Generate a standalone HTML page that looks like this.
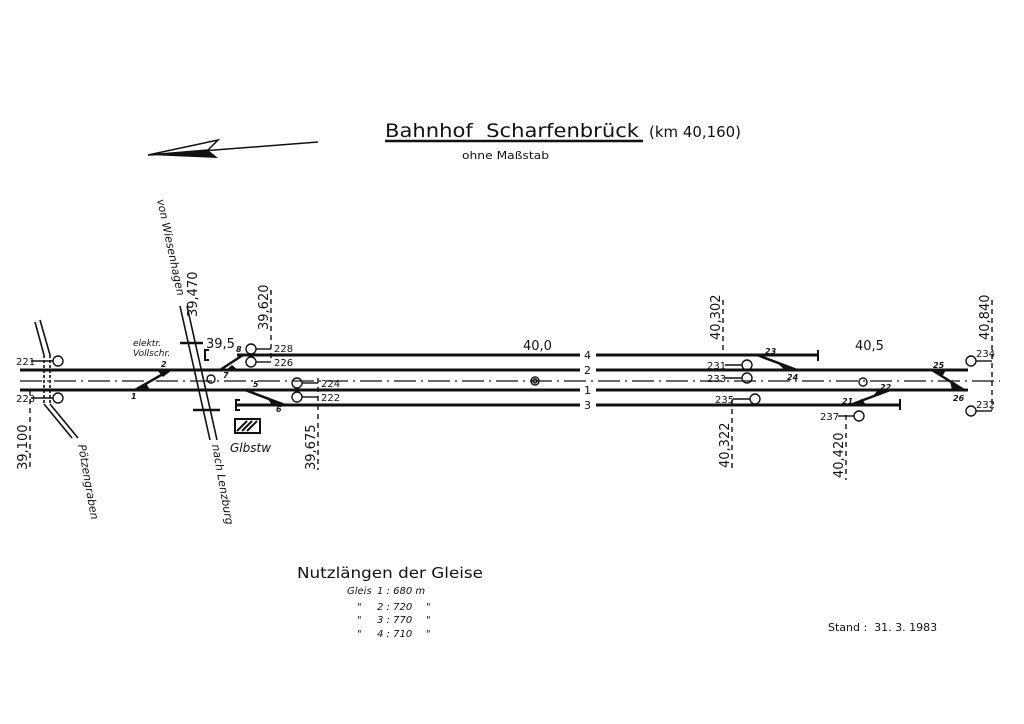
<!DOCTYPE html>
<html><head><meta charset="utf-8"><style>
html,body{margin:0;padding:0;background:#fff}
svg{display:block}
text{font-family:"DejaVu Sans","Liberation Sans",sans-serif;fill:#111}
.i{font-style:italic}
</style></head><body>
<svg width="1024" height="724" viewBox="0 0 1024 724" xmlns="http://www.w3.org/2000/svg">
<line x1="150" y1="155" x2="318" y2="142" stroke="#111" stroke-width="1.5"/>
<polygon points="148,155 218,140 208,150" fill="none" stroke="#111" stroke-width="1.5"/>
<polygon points="148,155 208,150 218,158" fill="#111"/>

<text x="385" y="137" font-size="19" textLength="254" lengthAdjust="spacingAndGlyphs" xml:space="preserve">Bahnhof  Scharfenbrück</text>
<line x1="385" y1="141" x2="643" y2="141" stroke="#111" stroke-width="2.5"/>
<text x="649" y="137" font-size="15" textLength="92" lengthAdjust="spacingAndGlyphs">(km 40,160)</text>
<text x="462" y="159" font-size="11" textLength="87" lengthAdjust="spacingAndGlyphs">ohne Maßstab</text>

<g stroke="#111" fill="none">
<g stroke-width="3">
<line x1="237" y1="355" x2="580" y2="355"/>
<line x1="20" y1="370" x2="580" y2="370"/>
<line x1="20" y1="390" x2="580" y2="390"/>
<line x1="236" y1="405" x2="580" y2="405"/>
<line x1="596" y1="355" x2="818" y2="355"/>
<line x1="596" y1="370" x2="968" y2="370"/>
<line x1="596" y1="390" x2="968" y2="390"/>
<line x1="596" y1="405" x2="900" y2="405"/>
</g>
<g stroke-width="2">
<polyline points="209,350 205,350 205,360 209,360"/>
<polyline points="240,400 236,400 236,410 240,410"/>
<line x1="818" y1="350" x2="818" y2="361"/>
<line x1="900" y1="399" x2="900" y2="410"/>
</g>
<line x1="20" y1="381" x2="1000" y2="381" stroke-width="1.2" stroke-dasharray="22,5,2,5"/>
<g stroke-width="2.5">
<line x1="135" y1="390" x2="170" y2="370"/>
<line x1="220" y1="370" x2="243" y2="355"/>
<line x1="245" y1="390" x2="285" y2="405"/>
<line x1="757" y1="355" x2="797" y2="370"/>
<line x1="850" y1="405" x2="890" y2="390"/>
<line x1="932" y1="370" x2="964" y2="390"/>
</g>
<g stroke-width="1.6">
<line x1="180" y1="306" x2="210" y2="440"/>
<line x1="187" y1="306" x2="217" y2="440"/>
<line x1="40" y1="320" x2="50" y2="355"/>
<line x1="35" y1="322" x2="44" y2="355"/>
<line x1="44" y1="404" x2="72" y2="438"/>
<line x1="50" y1="404" x2="78" y2="438"/>
<line x1="44" y1="355" x2="44" y2="404" stroke-dasharray="3,2"/>
<line x1="50" y1="355" x2="50" y2="404" stroke-dasharray="3,2"/>
</g>
<g stroke-width="2.5">
<line x1="180" y1="343" x2="203" y2="343"/>
<line x1="193" y1="410" x2="220" y2="410"/>
</g>
<g stroke-width="1.4" stroke-dasharray="5,4">
<line x1="271" y1="290" x2="271" y2="362"/>
<line x1="318" y1="378" x2="318" y2="470"/>
<line x1="723" y1="300" x2="723" y2="355"/>
<line x1="732" y1="400" x2="732" y2="472"/>
<line x1="846" y1="415" x2="846" y2="480"/>
<line x1="992" y1="300" x2="992" y2="410"/>
<line x1="30" y1="390" x2="30" y2="470"/>
</g>
<g stroke-width="1.4">
<circle cx="251" cy="349" r="5"/><line x1="256" y1="349" x2="271" y2="349"/>
<circle cx="251" cy="362" r="5"/><line x1="256" y1="362" x2="271" y2="362"/>
<circle cx="297" cy="383" r="5"/><line x1="302" y1="383" x2="318" y2="383"/>
<circle cx="297" cy="397" r="5"/><line x1="302" y1="397" x2="318" y2="397"/>
<circle cx="211" cy="379" r="4"/>
<circle cx="535" cy="381" r="4"/><circle cx="535" cy="381" r="2"/>
<circle cx="747" cy="365" r="5"/><line x1="725" y1="365" x2="742" y2="365"/>
<circle cx="747" cy="378" r="5"/><line x1="725" y1="378" x2="742" y2="378"/>
<circle cx="755" cy="399" r="5"/><line x1="733" y1="399" x2="750" y2="399"/>
<circle cx="859" cy="416" r="5"/><line x1="838" y1="416" x2="854" y2="416"/>
<circle cx="863" cy="382" r="4"/>
<circle cx="971" cy="361" r="5"/><line x1="976" y1="361" x2="992" y2="361"/>
<circle cx="971" cy="411" r="5"/><line x1="976" y1="411" x2="992" y2="411"/>
<circle cx="58" cy="361" r="5"/>
<circle cx="58" cy="398" r="5"/>
<line x1="31" y1="361" x2="53" y2="361"/>
<line x1="31" y1="398" x2="53" y2="398"/>
</g>
<rect x="235" y="419" width="25" height="14" stroke-width="2"/>
</g>
<path d="M237 431 L247 421 M242 431 L252 421 M247 431 L257 421" stroke="#111" stroke-width="2"/>
<!-- switch wedges -->
<g fill="#111">
<polygon points="135,390 150,390 146,383"/>
<polygon points="157,370 172,370 163,377"/>
<polygon points="226,370 238,370 232,365"/>
<polygon points="267,398 285,405 272,405"/>
<polygon points="776,362 797,370 785,370"/>
<polygon points="850,405 866,405 862,399"/>
<polygon points="872,397 890,390 878,390"/>
<polygon points="932,370 946,370 942,377"/>
<polygon points="950,381 964,390 952,390"/>
</g>

<g font-size="10">
<text x="274" y="352">228</text><text x="274" y="366">226</text>
<text x="321" y="387">224</text><text x="321" y="401">222</text>
<text x="707" y="369">231</text><text x="707" y="382">233</text>
<text x="715" y="403">235</text><text x="820" y="420">237</text>
<text x="976" y="357">234</text><text x="976" y="408">232</text>
<text x="16" y="365">221</text><text x="16" y="402">223</text>
</g>
<g font-size="8" class="i" font-weight="bold">
<text x="161" y="367">2</text><text x="131" y="399">1</text>
<text x="236" y="352">8</text><text x="223" y="378">7</text>
<text x="253" y="387">5</text><text x="276" y="412">6</text>
<text x="765" y="354">23</text><text x="787" y="380">24</text>
<text x="842" y="404">21</text><text x="880" y="390">22</text>
<text x="933" y="368">25</text><text x="953" y="401">26</text>
</g>
<g font-size="11">
<text x="584" y="359">4</text><text x="584" y="374">2</text>
<text x="584" y="394">1</text><text x="584" y="409">3</text>
</g>
<text x="523" y="350" font-size="13">40,0</text>
<text x="855" y="350" font-size="13">40,5</text>
<text x="206" y="348" font-size="13">39,5</text>
<text x="133" y="346" font-size="9" class="i">elektr.</text>
<text x="133" y="356" font-size="9" class="i">Vollschr.</text>
<text x="230" y="452" font-size="12" class="i">Glbstw</text>

<g font-size="13">
<text transform="translate(268,330) rotate(-90)">39,620</text>
<text transform="translate(315,470) rotate(-90)">39,675</text>
<text transform="translate(720,340) rotate(-90)">40,302</text>
<text transform="translate(729,468) rotate(-90)">40,322</text>
<text transform="translate(843,478) rotate(-90)">40,420</text>
<text transform="translate(989,340) rotate(-90)">40,840</text>
<text transform="translate(27,470) rotate(-90)">39,100</text>
<text transform="translate(197,317) rotate(-90)">39,470</text>
</g>
<g font-size="11" class="i">
<text transform="translate(157,200) rotate(78)">von Wiesenhagen</text>
<text transform="translate(212,445) rotate(80)">nach Lenzburg</text>
<text transform="translate(78,445) rotate(80)">Pötzengraben</text>
</g>

<text x="297" y="578" font-size="15" textLength="186" lengthAdjust="spacingAndGlyphs">Nutzlängen der Gleise</text>
<g font-size="10" class="i">
<text x="347" y="594">Gleis</text>
<text x="357" y="610">"</text><text x="357" y="623">"</text><text x="357" y="637">"</text>
<text x="377" y="594">1 : 680 m</text>
<text x="377" y="610">2 : 720</text><text x="426" y="610">"</text>
<text x="377" y="623">3 : 770</text><text x="426" y="623">"</text>
<text x="377" y="637">4 : 710</text><text x="426" y="637">"</text>
</g>
<text x="828" y="631" font-size="11" xml:space="preserve">Stand :  31. 3. 1983</text>
</svg>
</body></html>
